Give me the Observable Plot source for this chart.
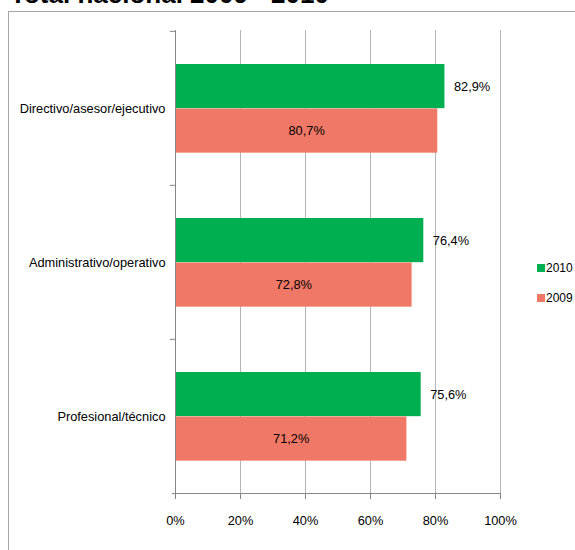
<!DOCTYPE html>
<html>
<head>
<meta charset="utf-8">
<script src="https://cdn.jsdelivr.net/npm/d3@7"></script>
<script src="https://cdn.jsdelivr.net/npm/@observablehq/plot@0.6"></script>
<style>
  html, body { margin: 0; padding: 0; background: #fff; overflow: hidden; }
  #wrap { position: relative; width: 575px; height: 550px; overflow: hidden; font-family: "Liberation Sans Narrow", "Arial Narrow", "Liberation Sans", Arial, sans-serif; }
  #frame { position: absolute; left: 8px; top: 11px; width: 620px; height: 620px; border: 1px solid #a6a6a6; box-sizing: border-box; }
  #title { position: absolute; left: 10px; top: -19px; font-family: "Liberation Sans", Arial, sans-serif; font-weight: bold; font-size: 26px; line-height: 26px; white-space: nowrap; color: #000; }
  #chart { position: absolute; left: 0; top: 0; }
  #legend { position: absolute; left: 537px; top: 260px; font-size: 12px; color: #000; }
  .item { display: flex; align-items: center; height: 15px; margin-bottom: 15px; }
  .sw { width: 8px; height: 8px; margin-right: 1px; }
</style>
</head>
<body>
<div id="wrap">
  <div id="frame"></div>
  <div id="title">Total nacional 2009 - 2010</div>
  <div id="chart"></div>
  <div id="legend"></div>
</div>
<script>
const categories = ["Directivo/asesor/ejecutivo", "Administrativo/operativo", "Profesional/técnico"];
const values2010 = [82.9, 76.4, 75.6];
const values2009 = [80.7, 72.8, 71.2];
const xTicks = [0, 20, 40, 60, 80, 100];
const seriesNames = ["2010", "2009"];
const seriesColors = ["#00b050", "#f07866"];

const fmt = v => v.toFixed(1).replace(".", ",") + "%";
const rows2010 = categories.map((c, i) => ({category: c, value: values2010[i]}));
const rows2009 = categories.map((c, i) => ({category: c, value: values2009[i]}));

const W = 575, H = 550;
const mTop = 30, mBottom = 57, mLeft = 175, mRight = 75;
const bw = (H - mTop - mBottom) / categories.length;
const barH = 44.5, padTop = 33;

const chart = Plot.plot({
  width: W, height: H,
  marginTop: mTop, marginBottom: mBottom, marginLeft: mLeft, marginRight: mRight,
  style: {fontFamily: '"Liberation Sans Narrow", "Arial Narrow", "Liberation Sans", Arial, sans-serif', fontSize: "12.8px", color: "#000", background: "transparent"},
  x: {domain: [0, 100]},
  y: {domain: categories, padding: 0},
  marks: [
    Plot.gridX(xTicks.filter(d => d > 0), {stroke: "#b4b4b4", strokeOpacity: 1}),
    Plot.barX(rows2010, {y: "category", x: "value", fill: seriesColors[0], insetTop: padTop, insetBottom: bw - padTop - barH}),
    Plot.barX(rows2009, {y: "category", x: "value", fill: seriesColors[1], insetTop: padTop + barH, insetBottom: bw - padTop - 2 * barH}),
    Plot.text(rows2010, {y: "category", x: "value", text: d => fmt(d.value), textAnchor: "start", dx: 9, dy: -(bw / 2 - padTop - barH / 2), fill: "#000"}),
    Plot.text(rows2009, {y: "category", x: d => d.value / 2, text: d => fmt(d.value), textAnchor: "middle", dy: padTop + barH * 1.5 - bw / 2, fill: "#000"}),
    Plot.ruleX([0], {stroke: "#868686"}),
    Plot.ruleY(categories, {y: d => d, x1: 0, x2: -1.6, dy: -bw / 2, stroke: "#868686"}),
    Plot.ruleY(categories.slice(-1), {y: d => d, x1: 0, x2: -1.0, dy: bw / 2, stroke: "#868686"}),
    Plot.frame({anchor: "bottom", stroke: "#868686"}),
    Plot.axisX({ticks: xTicks, tickSize: 6, tickPadding: 16, stroke: "#868686", tickFormat: d => d + "%", label: null}),
    Plot.axisY({tickSize: 0, tickPadding: 10, label: null})
  ]
});
document.getElementById("chart").appendChild(chart);

const legend = document.getElementById("legend");
seriesNames.forEach((n, i) => {
  const it = document.createElement("div");
  it.className = "item";
  it.innerHTML = `<span class="sw" style="background:${seriesColors[i]}"></span><span>${n}</span>`;
  legend.appendChild(it);
});
</script>
</body>
</html>
